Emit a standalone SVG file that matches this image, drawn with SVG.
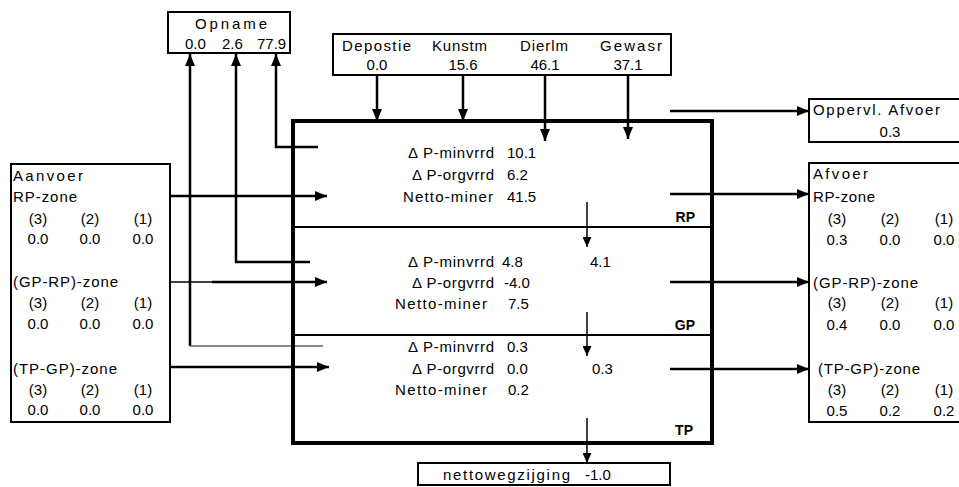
<svg xmlns="http://www.w3.org/2000/svg" width="959" height="487" viewBox="0 0 959 487">
<defs>
<style>
text{font-family:"Liberation Sans",Arial,sans-serif;font-size:15px;fill:#000}
.b{font-weight:bold;font-size:14px;text-anchor:end}
.box{fill:#fff;stroke:#000;stroke-width:2}
.ln{fill:none;stroke:#000;stroke-width:2.5}
.th{fill:none;stroke:#000;stroke-width:1.5}
.gr{fill:none;stroke:#666;stroke-width:1.5}
.m{text-anchor:middle}
.e{text-anchor:end}
</style>
<marker id="ah" markerUnits="userSpaceOnUse" markerWidth="12" markerHeight="10" refX="12" refY="5" orient="auto"><path d="M0,0 L12,5 L0,10 Z" fill="#000"/></marker>
<marker id="as" markerUnits="userSpaceOnUse" markerWidth="10" markerHeight="9" refX="10" refY="4.5" orient="auto"><path d="M0,0 L10,4.5 L0,9 Z" fill="#000"/></marker>
</defs>

<g id="connectors">
<line class="ln" x1="190" y1="346" x2="190" y2="54" marker-end="url(#ah)"/>
<line class="gr" x1="190" y1="346" x2="323" y2="346"/>
<polyline class="ln" points="310,262 236,262 236,54" marker-end="url(#ah)"/>
<polyline class="ln" points="318,147 276,147 276,54" marker-end="url(#ah)"/>
<line class="ln" x1="377" y1="75" x2="377" y2="121" marker-end="url(#ah)"/>
<line class="ln" x1="463" y1="75" x2="463" y2="121" marker-end="url(#ah)"/>
<line class="ln" x1="545" y1="75" x2="545" y2="141" marker-end="url(#ah)"/>
<line class="ln" x1="628" y1="75" x2="628" y2="139" marker-end="url(#ah)"/>
<line class="ln" x1="170" y1="196" x2="327" y2="196" marker-end="url(#ah)"/>
<line class="th" x1="170" y1="282" x2="212" y2="282"/>
<line class="ln" x1="212" y1="282" x2="327" y2="282" marker-end="url(#ah)"/>
<line class="ln" x1="170" y1="367" x2="329" y2="367" marker-end="url(#ah)"/>
<line class="ln" x1="670" y1="194" x2="809" y2="194" marker-end="url(#ah)"/>
<line class="ln" x1="670" y1="282" x2="809" y2="282" marker-end="url(#ah)"/>
<line class="ln" x1="670" y1="369" x2="809" y2="369" marker-end="url(#ah)"/>
<line class="ln" x1="670" y1="111" x2="809" y2="111" marker-end="url(#ah)"/>
<line class="th" x1="587" y1="202" x2="587" y2="247" marker-end="url(#as)"/>
<line class="th" x1="587" y1="312" x2="587" y2="356" marker-end="url(#as)"/>
<line class="th" x1="587" y1="418" x2="587" y2="463" marker-end="url(#as)"/>
</g>

<g id="main">
<rect x="293" y="121" width="419" height="322" fill="none" stroke="#000" stroke-width="4"/>
<line x1="293" y1="227" x2="712" y2="227" stroke="#000" stroke-width="2"/>
<line x1="293" y1="335" x2="712" y2="335" stroke="#000" stroke-width="2"/>
<text x="408" y="158" textLength="86" lengthAdjust="spacing">Δ P-minvrrd</text><text x="507" y="158">10.1</text>
<text x="412" y="180" textLength="82" lengthAdjust="spacing">Δ P-orgvrrd</text><text x="507" y="180">6.2</text>
<text x="403" y="202" textLength="90" lengthAdjust="spacing">Netto-miner</text><text x="507" y="202">41.5</text>
<text class="b" x="695" y="222">RP</text>
<text x="408" y="267" textLength="86" lengthAdjust="spacing">Δ P-minvrrd</text><text x="502" y="267">4.8</text>
<text x="412" y="288" textLength="82" lengthAdjust="spacing">Δ P-orgvrrd</text><text x="504" y="288">-4.0</text>
<text x="395" y="309" textLength="92" lengthAdjust="spacing">Netto-miner</text><text x="508" y="309">7.5</text>
<text x="590" y="267">4.1</text>
<text class="b" x="695" y="330">GP</text>
<text x="408" y="352" textLength="86" lengthAdjust="spacing">Δ P-minvrrd</text><text x="507" y="352">0.3</text>
<text x="412" y="374" textLength="82" lengthAdjust="spacing">Δ P-orgvrrd</text><text x="507" y="374">0.0</text>
<text x="395" y="395" textLength="92" lengthAdjust="spacing">Netto-miner</text><text x="508" y="395">0.2</text>
<text x="592" y="374">0.3</text>
<text class="b" x="693" y="435">TP</text>
</g>

<g id="opname">
<rect class="box" x="168" y="12" width="122" height="41"/>
<text x="195" y="29" textLength="72" lengthAdjust="spacing">Opname</text>
<text x="185" y="49">0.0</text><text x="222" y="49">2.6</text><text x="257" y="49">77.9</text>
</g>

<g id="bronnen">
<rect class="box" x="333" y="34" width="338" height="41"/>
<text x="342" y="51" textLength="69" lengthAdjust="spacing">Depostie</text>
<text x="432" y="51" textLength="55" lengthAdjust="spacing">Kunstm</text>
<text x="520" y="51" textLength="48" lengthAdjust="spacing">Dierlm</text>
<text x="600" y="51" textLength="62" lengthAdjust="spacing">Gewasr</text>
<text class="m" x="377" y="70">0.0</text>
<text class="m" x="463" y="70">15.6</text>
<text class="m" x="545" y="70">46.1</text>
<text class="m" x="628" y="70">37.1</text>
</g>

<g id="aanvoer">
<rect class="box" x="11" y="164" width="159" height="258"/>
<text x="13" y="181" textLength="70" lengthAdjust="spacing">Aanvoer</text>
<text x="13" y="202" textLength="64" lengthAdjust="spacing">RP-zone</text>
<text class="m" x="38" y="224">(3)</text><text class="m" x="90" y="224">(2)</text><text class="m" x="143" y="224">(1)</text>
<text class="m" x="38" y="244">0.0</text><text class="m" x="90" y="244">0.0</text><text class="m" x="143" y="244">0.0</text>
<text x="13" y="287" textLength="105" lengthAdjust="spacing">(GP-RP)-zone</text>
<text class="m" x="38" y="308">(3)</text><text class="m" x="90" y="308">(2)</text><text class="m" x="143" y="308">(1)</text>
<text class="m" x="38" y="329">0.0</text><text class="m" x="90" y="329">0.0</text><text class="m" x="143" y="329">0.0</text>
<text x="13" y="374" textLength="104" lengthAdjust="spacing">(TP-GP)-zone</text>
<text class="m" x="38" y="395">(3)</text><text class="m" x="90" y="395">(2)</text><text class="m" x="143" y="395">(1)</text>
<text class="m" x="38" y="415">0.0</text><text class="m" x="90" y="415">0.0</text><text class="m" x="143" y="415">0.0</text>
</g>

<g id="oppervl">
<rect class="box" x="809" y="99" width="170" height="43"/>
<text x="813" y="115" textLength="127" lengthAdjust="spacing">Oppervl. Afvoer</text>
<text class="m" x="890" y="137">0.3</text>
</g>

<g id="afvoer">
<rect class="box" x="809" y="163" width="170" height="259"/>
<text x="813" y="179" textLength="55" lengthAdjust="spacing">Afvoer</text>
<text x="813" y="202" textLength="62" lengthAdjust="spacing">RP-zone</text>
<text class="m" x="837" y="224">(3)</text><text class="m" x="890" y="224">(2)</text><text class="m" x="944" y="224">(1)</text>
<text class="m" x="837" y="245">0.3</text><text class="m" x="890" y="245">0.0</text><text class="m" x="944" y="245">0.0</text>
<text x="813" y="288" textLength="105" lengthAdjust="spacing">(GP-RP)-zone</text>
<text class="m" x="837" y="308">(3)</text><text class="m" x="890" y="308">(2)</text><text class="m" x="944" y="308">(1)</text>
<text class="m" x="837" y="330">0.4</text><text class="m" x="890" y="330">0.0</text><text class="m" x="944" y="330">0.0</text>
<text x="818" y="374" textLength="102" lengthAdjust="spacing">(TP-GP)-zone</text>
<text class="m" x="837" y="395">(3)</text><text class="m" x="890" y="395">(2)</text><text class="m" x="944" y="395">(1)</text>
<text class="m" x="837" y="416">0.5</text><text class="m" x="890" y="416">0.2</text><text class="m" x="944" y="416">0.2</text>
</g>

<g id="netto">
<rect class="box" x="418" y="463" width="252" height="22"/>
<text x="443" y="480" textLength="127" lengthAdjust="spacing">nettowegzijging</text>
<text x="585" y="480">-1.0</text>
</g>
</svg>
